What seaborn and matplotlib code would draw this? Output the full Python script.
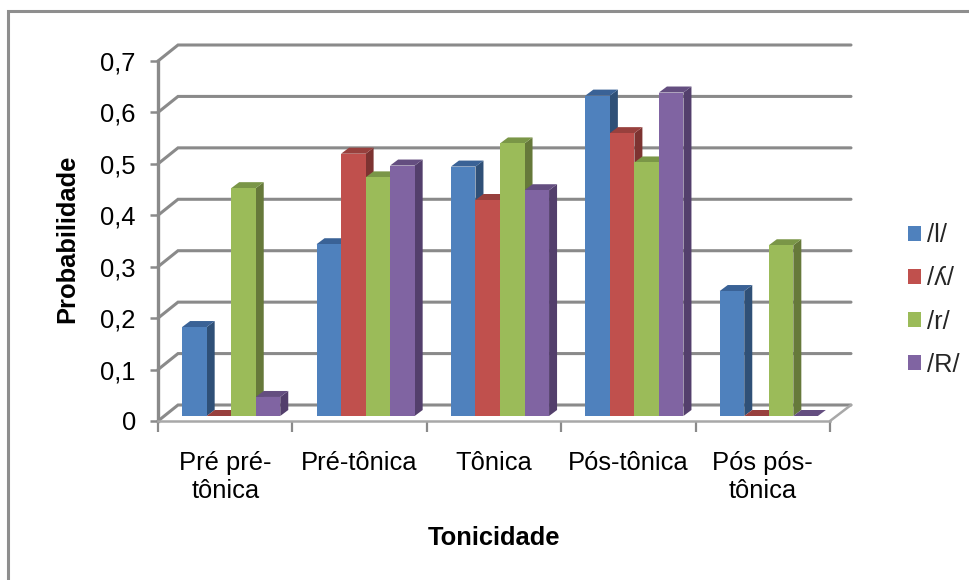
import matplotlib
matplotlib.use("Agg")
import matplotlib.pyplot as plt
import pandas as pd
import seaborn as sns
from matplotlib.lines import Line2D
from matplotlib.patches import Polygon

categories = ["Pré pré-\ntônica", "Pré-tônica", "Tônica", "Pós-tônica", "Pós pós-\ntônica"]
series_l = [0.173, 0.334, 0.485, 0.623, 0.243]
series_lh = [0.0, 0.51, 0.42, 0.55, 0.0]
series_r = [0.443, 0.464, 0.53, 0.493, 0.332]
series_rr = [0.037, 0.487, 0.439, 0.629, 0.0]
series_names = ["/l/", "/ʎ/", "/r/", "/R/"]
y_ticks = [0, 0.1, 0.2, 0.3, 0.4, 0.5, 0.6, 0.7]
y_labels = ["0", "0,1", "0,2", "0,3", "0,4", "0,5", "0,6", "0,7"]

front_colors = ["#4F81BD", "#C0504D", "#9BBB59", "#8064A2"]
side_colors = ["#2F5077", "#7D3331", "#66793A", "#533F6C"]
top_colors = ["#3A6296", "#98403D", "#7A9647", "#644E80"]
GRID = "#8A8A8A"

W, H = 969, 580
sns.set_theme(style="white")
plt.rcParams["font.family"] = ["Liberation Sans", "DejaVu Sans"]

fig = plt.figure(figsize=(W / 100, H / 100), dpi=100, facecolor="white")


def axes_box(left, top, right, bottom):
    return [left / W, 1 - bottom / H, (right - left) / W, (bottom - top) / H]


# Chart frame: only the top and left edges fall inside the canvas
frame_x = 7.5 / W
frame_y = 1 - 10.5 / H
fig.add_artist(Line2D([frame_x, frame_x, 1], [0, frame_y, frame_y], transform=fig.transFigure,
                      color="#8E8E8E", lw=2.2, solid_joinstyle="miter"))

# Front axis carries the ticks and labels; the wall and floor are drawn behind the bars
ax = fig.add_axes(axes_box(158, 61, 830, 421))
ax.set_xlim(-0.5, 4.5)
ax.set_ylim(0, 0.7)
ax.patch.set_alpha(0)
for name in ("top", "right"):
    ax.spines[name].set_visible(False)
ax.spines["left"].set_color(GRID)
ax.spines["left"].set_linewidth(2.4)
ax.spines["bottom"].set_color("#A8A8A8")
ax.spines["bottom"].set_linewidth(1.8)
ax.set_yticks(y_ticks, y_labels, fontsize=18.4, color="black")
ax.set_xticks(range(5), categories, fontsize=18.4, color="black", linespacing=1.2)
ax.set_xticks([i - 0.5 for i in range(6)], minor=True)
ax.tick_params(axis="y", length=6, width=1.8, color=GRID, left=True, pad=10)
ax.tick_params(axis="x", which="major", length=0, pad=21.5)
ax.tick_params(axis="x", which="minor", length=8, width=1.6, color=GRID, bottom=True)
ax.set_xlabel("Tonicidade", fontsize=18.4, fontweight="bold", labelpad=17, color="black")
ax.set_ylabel("Probabilidade", fontsize=18.4, fontweight="bold", labelpad=15, color="black")
ax.yaxis.label.set_y(0.505)

# Back wall gridlines and their diagonals to the front axis
to_px = ax.transData
px_to_data = ax.transData.inverted()
for tick in y_ticks:
    x0, y0 = to_px.transform((-0.5, tick))
    points = [(x0, y0), (x0 + 20, y0 + 16), (x0 + 693, y0 + 16)]
    xs, ys = zip(*px_to_data.transform(points))
    ax.plot(xs, ys, color=GRID, lw=2.2, clip_on=False, zorder=1, solid_joinstyle="miter")
x0, y0 = to_px.transform((4.5, 0))
xs, ys = zip(*px_to_data.transform([(x0, y0), (x0 + 21, y0 + 16)]))
ax.plot(xs, ys, color="#A8A8A8", lw=1.8, clip_on=False, zorder=1)

# Bars sit a little inside the floor, so their axes are nudged up and right
bar_ax = fig.add_axes(axes_box(164, 56, 836, 416))
bar_ax.patch.set_alpha(0)
table = pd.DataFrame({
    "categoria": categories * 4,
    "fonema": [n for n in series_names for _ in categories],
    "valor": series_l + series_lh + series_r + series_rr,
})
sns.barplot(data=table, x="categoria", y="valor", hue="fonema", hue_order=series_names,
            order=categories, palette=front_colors, width=0.73, saturation=1, gap=0,
            ax=bar_ax, legend=True, zorder=4, linewidth=0, edgecolor="none")
bar_ax.set_xlim(-0.5, 4.5)
bar_ax.set_ylim(0, 0.7)
bar_ax.axis("off")

# Extrude each bar with a side and a top face
DEPTH_X, DEPTH_Y = 8, 6
inv = bar_ax.transData.inverted()
rects = [p for c in bar_ax.containers for p in c]
for idx, patch in enumerate(rects):
    s = idx // 5
    (l, b), (r, t) = bar_ax.transData.transform(
        [(patch.get_x(), 0), (patch.get_x() + patch.get_width(), patch.get_height())])
    side = inv.transform([(r, b), (r + DEPTH_X, b + DEPTH_Y), (r + DEPTH_X, t + DEPTH_Y), (r, t)])
    top = inv.transform([(l, t), (l + DEPTH_X, t + DEPTH_Y), (r + DEPTH_X, t + DEPTH_Y), (r, t)])
    bar_ax.add_patch(Polygon(side, closed=True, facecolor=side_colors[s], edgecolor="none",
                             zorder=3, clip_on=False))
    bar_ax.add_patch(Polygon(top, closed=True, facecolor=top_colors[s], edgecolor="none",
                             zorder=3, clip_on=False))

handles, labels = bar_ax.get_legend_handles_labels()
bar_ax.legend(handles, labels, loc="center left", bbox_to_anchor=(908 / W, 1 - 300 / H),
              bbox_transform=fig.transFigure, frameon=False, fontsize=18.4,
              handlelength=0.52, handleheight=0.52, handletextpad=0.22, labelspacing=0.75,
              borderpad=0, borderaxespad=0)

fig.savefig("out.png", dpi=100, facecolor="white")
